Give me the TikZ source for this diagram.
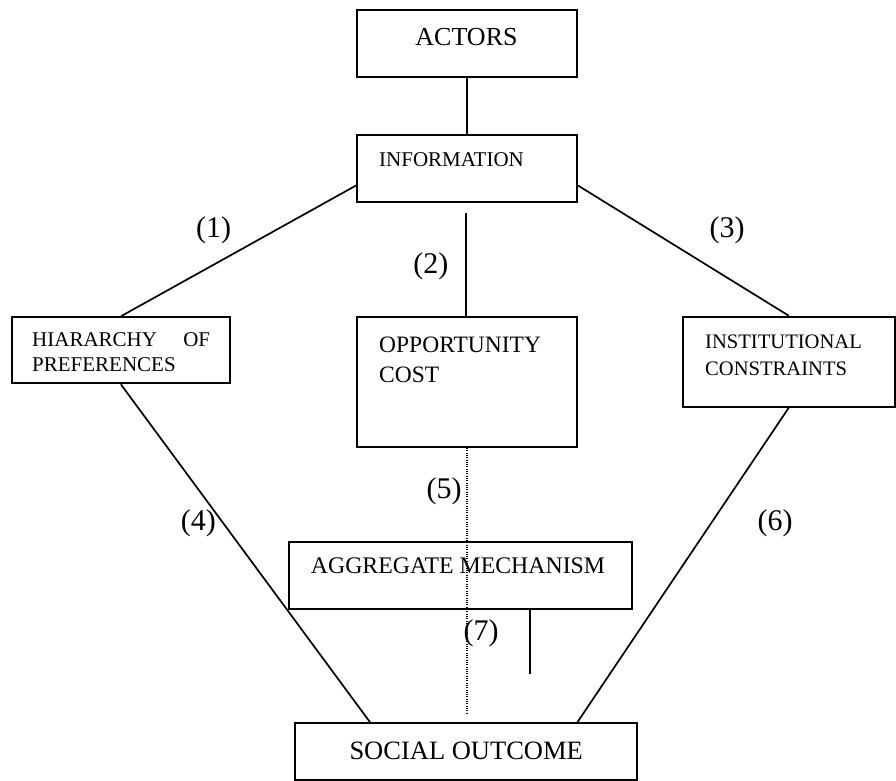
\documentclass[tikz,border=0pt]{standalone}
\usepackage{fontspec}
\setmainfont{Liberation Serif}
\usetikzlibrary{calc}
\begin{document}
\begin{tikzpicture}[x=1pt,y=-1pt,
  box/.style={draw, line width=2pt, inner sep=0pt, rectangle},
  conn/.style={line width=1.7pt},
  dotline/.style={line width=1.2pt, dash pattern=on 1pt off 1.3pt},
  lbl/.style={inner sep=0pt, anchor=center, font=\fontsize{30}{36}\selectfont},
  txt/.style={inner sep=0pt, anchor=base west}]
\useasboundingbox (0,0) rectangle (896,780);
% boxes
\node[box, minimum width=220pt, minimum height=67pt] (actors) at (467,43.5) {};
\node[box, minimum width=220pt, minimum height=66.7pt] (info) at (467,168.35) {};
\node[box, minimum width=220pt, minimum height=130pt] (opp) at (467,382) {};
\node[box, minimum width=218.3pt, minimum height=66pt] (hier) at (120.85,350.3) {};
\node[box, minimum width=211.5pt, minimum height=90pt] (inst) at (788.75,361.7) {};
\node[box, minimum width=342.4pt, minimum height=67.6pt] (agg) at (460.5,575.5) {};
\node[box, minimum width=342.3pt, minimum height=56.2pt] (social) at (466.15,751.4) {};
% texts
\node[txt, anchor=base] (tactors) at (466.5,45) {\fontsize{26}{31}\selectfont ACTORS};
\node[txt] (tinfo) at (379,166) {\fontsize{21}{25}\selectfont INFORMATION};
\node[txt] (topp) at (379,352) {\fontsize{23.5}{30}\selectfont\parbox[t]{190pt}{OPPORTUNITY\\COST}};
\node[txt] (thier) at (32,346.7) {\fontsize{21}{25}\selectfont\parbox[t]{178pt}{HIARARCHY\hfill OF\par PREFERENCES}};
\node[txt] (tinst) at (705,348.3) {\fontsize{20.6}{26.7}\selectfont\parbox[t]{180pt}{INSTITUTIONAL\\CONSTRAINTS}};
\node[txt] (tagg) at (310.7,573.3) {\fontsize{23.8}{28}\selectfont AGGREGATE MECHANISM};
\node[txt] (tsocial) at (349.3,759.3) {\fontsize{26.5}{31}\selectfont SOCIAL OUTCOME};
% free ends
\coordinate (c2top) at (466,213);
\coordinate (c5end) at (466,713);
\coordinate (c7end) at (529.3,674);
\coordinate (i1) at ($(info.south west)!0.25!(info.north west)$);
\coordinate (i3) at ($(info.south east)!0.25!(info.north east)$);
\coordinate (s4) at ($(social.north west)!0.221!(social.north east)$);
\coordinate (s6) at ($(social.north west)!0.823!(social.north east)$);
\coordinate (a7) at ($(agg.south west)!0.701!(agg.south east)$);
% connectors
\draw[conn] (actors.south) -- (info.north);
\draw[conn] (i1) -- (hier.north);
\draw[conn] (i3) -- (inst.north);
\draw[conn] (c2top) -- (c2top |- opp.north);
\draw[conn] (hier.south) -- (s4);
\draw[conn] (inst.south) -- (s6);
\draw[dotline] (opp.south) -- (opp.south |- c5end);
\draw[conn] (a7) -- (a7 |- c7end);
% labels
\node[lbl] (l1) at (213.7,230) {(1)};
\node[lbl] (l2) at (430.8,266) {(2)};
\node[lbl] (l3) at (727,230) {(3)};
\node[lbl] (l4) at (198.3,523) {(4)};
\node[lbl] (l5) at (444,491) {(5)};
\node[lbl] (l6) at (775,523) {(6)};
\node[lbl] (l7) at (481,633) {(7)};
\end{tikzpicture}
\end{document}
